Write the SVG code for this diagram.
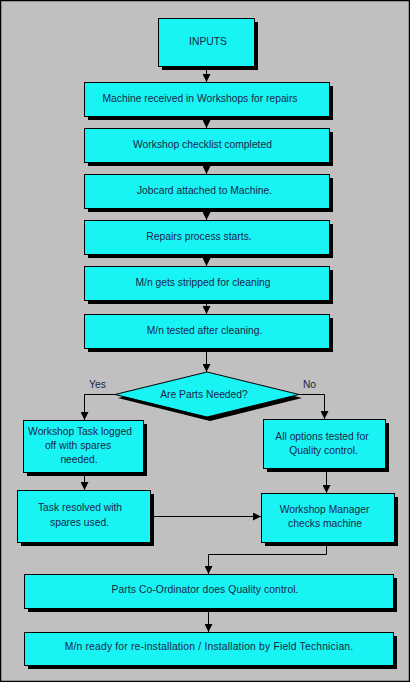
<svg xmlns="http://www.w3.org/2000/svg" width="410" height="682" viewBox="0 0 410 682">
<defs>
<style>
.box{fill:#18F4F4;stroke:#000;stroke-width:1}
.sh{fill:#000}
.t{font-family:"Liberation Sans",Arial,sans-serif;font-size:10.3px;fill:#1a2448;text-anchor:middle}
.c{fill:none;stroke:#000;stroke-width:1}
</style>
<marker id="ah" viewBox="0 0 8 8" refX="8" refY="4" markerWidth="8" markerHeight="8" markerUnits="userSpaceOnUse" orient="auto">
<path d="M0,0 L8,4 L0,8 z" fill="#000"/>
</marker>
</defs>
<rect x="0" y="0" width="410" height="682" fill="#C0C0C0"/>
<rect x="0.5" y="0.5" width="409" height="681" fill="none" stroke="#000" stroke-width="1.5"/>

<g id="connectors">
<path class="c" d="M206.5,67 V82" marker-end="url(#ah)"/>
<path class="c" d="M206.5,117 V128" marker-end="url(#ah)"/>
<path class="c" d="M206.5,163 V174" marker-end="url(#ah)"/>
<path class="c" d="M206.5,209 V220" marker-end="url(#ah)"/>
<path class="c" d="M206.5,255 V266" marker-end="url(#ah)"/>
<path class="c" d="M206.5,301 V314" marker-end="url(#ah)"/>
<path class="c" d="M206.5,349 V372" marker-end="url(#ah)"/>
<path class="c" d="M115,394.5 H84.5 V420" marker-end="url(#ah)"/>
<path class="c" d="M299,394.5 H324.5 V419" marker-end="url(#ah)"/>
<path class="c" d="M84.5,473 V490" marker-end="url(#ah)"/>
<path class="c" d="M326.5,469 V493" marker-end="url(#ah)"/>
<path class="c" d="M150,516.5 H261" marker-end="url(#ah)"/>
<path class="c" d="M326.5,543 V554.5 H208.5 V574" marker-end="url(#ah)"/>
<path class="c" d="M208.5,609 V632" marker-end="url(#ah)"/>
</g>

<g id="inputs">
<rect class="sh" x="162" y="22" width="96" height="48"/>
<rect class="box" x="158.5" y="18.5" width="96" height="48"/>
<text class="t" x="208" y="45">INPUTS</text>
</g>
<g id="machine-received">
<rect class="sh" x="88" y="86" width="245" height="34"/>
<rect class="box" x="84.5" y="82.5" width="245" height="34"/>
<text class="t" x="200" y="101.5">Machine received in Workshops for repairs</text>
</g>
<g id="checklist">
<rect class="sh" x="88" y="132" width="245" height="34"/>
<rect class="box" x="84.5" y="128.5" width="245" height="34"/>
<text class="t" x="202.5" y="147.5">Workshop checklist completed</text>
</g>
<g id="jobcard">
<rect class="sh" x="88" y="178" width="245" height="34"/>
<rect class="box" x="84.5" y="174.5" width="245" height="34"/>
<text class="t" x="204.5" y="193.5">Jobcard attached to Machine.</text>
</g>
<g id="repairs">
<rect class="sh" x="88" y="224" width="245" height="34"/>
<rect class="box" x="84.5" y="220.5" width="245" height="34"/>
<text class="t" x="199" y="239.5">Repairs process starts.</text>
</g>
<g id="stripped">
<rect class="sh" x="88" y="270" width="245" height="34"/>
<rect class="box" x="84.5" y="266.5" width="245" height="34"/>
<text class="t" x="203" y="285.5">M/n gets stripped for cleaning</text>
</g>
<g id="tested">
<rect class="sh" x="88" y="318" width="245" height="34"/>
<rect class="box" x="84.5" y="314.5" width="245" height="34"/>
<text class="t" x="204.5" y="333.5">M/n tested after cleaning.</text>
</g>
<g id="decision">
<polygon class="sh" points="210,376 302,398 210,421 118,398"/>
<polygon class="box" points="207,372 299,394.5 207,417 115,394.5"/>
<text class="t" x="204" y="398">Are Parts Needed?</text>
<text class="t" x="97.5" y="387.5">Yes</text>
<text class="t" x="309.5" y="387.5">No</text>
</g>
<g id="workshop-task">
<rect class="sh" x="27" y="424" width="120" height="52"/>
<rect class="box" x="23.5" y="420.5" width="120" height="52"/>
<text class="t" x="80" y="434.5">Workshop Task logged</text>
<text class="t" x="78" y="448.5">off with spares</text>
<text class="t" x="79" y="462.5">needed.</text>
</g>
<g id="all-options">
<rect class="sh" x="267" y="423" width="122" height="49"/>
<rect class="box" x="263.5" y="419.5" width="122" height="49"/>
<text class="t" x="322" y="439.5">All options tested for</text>
<text class="t" x="323.5" y="453.5">Quality control.</text>
</g>
<g id="task-resolved">
<rect class="sh" x="21" y="494" width="133" height="52"/>
<rect class="box" x="17.5" y="490.5" width="133" height="52"/>
<text class="t" x="80" y="511">Task resolved with</text>
<text class="t" x="79.5" y="525.5">spares used.</text>
</g>
<g id="workshop-manager">
<rect class="sh" x="265" y="497" width="133" height="49"/>
<rect class="box" x="261.5" y="493.5" width="133" height="49"/>
<text class="t" x="324.5" y="513">Workshop Manager</text>
<text class="t" x="325" y="527">checks machine</text>
</g>
<g id="parts-coordinator">
<rect class="sh" x="28" y="578" width="369" height="34"/>
<rect class="box" x="24.5" y="574.5" width="369" height="34"/>
<text class="t" x="205" y="593" letter-spacing="0.1">Parts Co-Ordinator does Quality control.</text>
</g>
<g id="ready">
<rect class="sh" x="28" y="636" width="369" height="33"/>
<rect class="box" x="24.5" y="632.5" width="369" height="33"/>
<text class="t" x="209" y="650" letter-spacing="0.2">M/n ready for re-installation / Installation by Field Technician.</text>
</g>
</svg>
